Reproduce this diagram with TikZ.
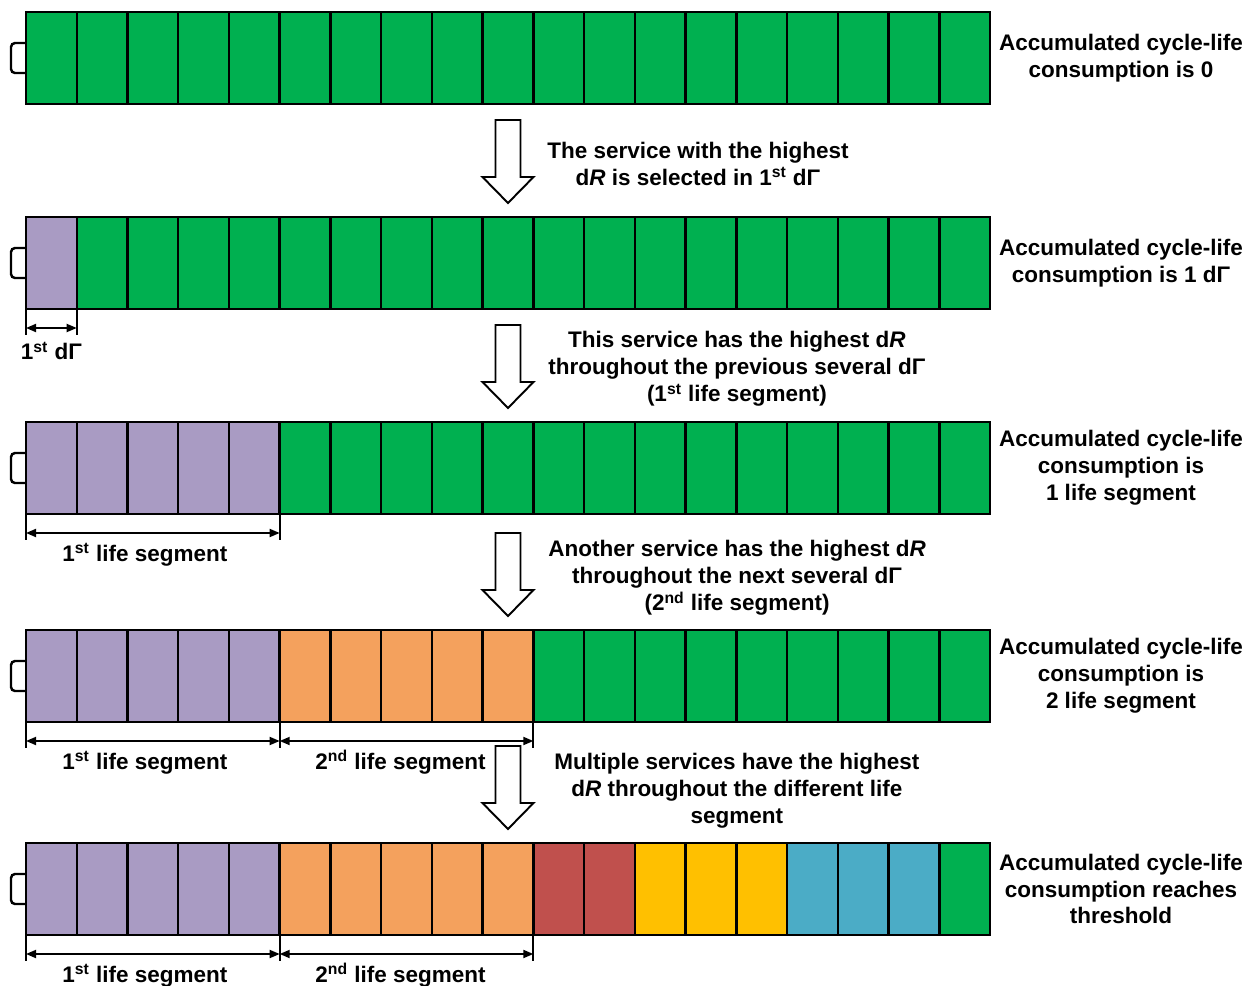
\documentclass[tikz,border=0pt]{standalone}
\usepackage{fontspec}
\setmainfont{Liberation Sans}
\usetikzlibrary{positioning,arrows.meta,calc}
\definecolor{lifegreen}{HTML}{00B050}
\definecolor{lifepurple}{HTML}{A99BC3}
\definecolor{lifeorange}{HTML}{F4A15D}
\definecolor{lifered}{HTML}{C0504D}
\definecolor{lifeyellow}{HTML}{FFC000}
\definecolor{lifeblue}{HTML}{4BACC6}

\begin{document}
\begin{tikzpicture}[
  x=0.02cm, y=-0.02cm,
  font=\bfseries\fontsize{12.8pt}{15.3pt}\selectfont,
  cell/.style={
    draw=black, line width=1.4pt, inner sep=0pt, outer sep=0pt,
    minimum width=1.0147cm, minimum height=1.84cm,
  },
  terminal/.style={draw=black, line width=1.4pt, rounded corners=0.08cm},
  blockarrow/.style={draw=black, line width=1.1pt, fill=white},
  dimline/.style={draw=black, line width=1pt},
  dimarrow/.style={{Triangle[length=2mm,width=1.6mm]}-{Triangle[length=2mm,width=1.6mm]}, line width=1pt},
  status/.style={align=center, inner sep=0pt},
  note/.style={align=center, inner sep=0pt, anchor=west},
  dimlabel/.style={inner sep=0pt}
]
\useasboundingbox (0,0) rectangle (1255,985);

% Batteries: 19 cells each, counts of purple/orange/red/yellow/blue cells
\foreach \top/\np/\no/\nr/\ny/\nb [count=\b] in {12/0/0/0/0/0, 217/1/0/0/0/0, 422/5/0/0/0/0, 630/5/5/0/0/0, 843/5/5/2/3/3} {
  \foreach \j in {1,...,19} {
    \pgfmathtruncatemacro\k{(\j>\np)+(\j>\np+\no)+(\j>\np+\no+\nr)+(\j>\np+\no+\nr+\ny)+(\j>\np+\no+\nr+\ny+\nb)}
    \pgfmathsetmacro\cc{{"lifepurple","lifeorange","lifered","lifeyellow","lifeblue","lifegreen"}[\k]}
    \node[cell, fill=\cc] (c\b-\j) at ({26+(\j-0.5)*50.737},\top+46) {};
  }
  % battery terminal
  \draw[terminal] ($(c\b-1.west)+(0,-15)$) -- ++(-15,0) -- ++(0,30) -- ++(15,0);
}

% Status labels
\node[status] (s1) at ($(c1-19.east)+(131,0)$) {Accumulated cycle-life\\consumption is 0};
\node[status] (s2) at ($(c2-19.east)+(131,0)$) {Accumulated cycle-life\\consumption is 1 dΓ};
\node[status] (s3) at ($(c3-19.east)+(131,0)$) {Accumulated cycle-life\\consumption is\\1 life segment};
\node[status] (s4) at ($(c4-19.east)+(131,0)$) {Accumulated cycle-life\\consumption is\\2 life segment};
\node[status] (s5) at ($(c5-19.east)+(131,0)$) {Accumulated cycle-life\\consumption reaches\\threshold};

% Block arrows between batteries
\foreach \t [count=\i] in {120,325,533,746} {
  \coordinate (arr\i) at (508,\t);
  \draw[blockarrow] (arr\i) ++(-12.5,0) -- ++(0,57) -- ++(-13,0) -- ++(25.5,26)
    -- ++(25.5,-26) -- ++(-13,0) -- ++(0,-57) -- cycle;
}

% Arrow notes
\node[note] (n1) at ($(arr1)+(39,44)$) {The service with the highest\\d\textit{R} is selected in 1\textsuperscript{st} dΓ};
\node[note] (n2) at ($(arr2)+(40,44)$) {This service has the highest d\textit{R}\\throughout the previous several dΓ\\(1\textsuperscript{st} life segment)};
\node[note] (n3) at ($(arr3)+(40,45)$) {Another service has the highest d\textit{R}\\throughout the next several dΓ\\(2\textsuperscript{nd} life segment)};
\node[note] (n4) at ($(arr4)+(46,45)$) {Multiple services have the highest\\d\textit{R} throughout the different life\\segment};

% Dimension: 1st dΓ
\draw[dimline] (c2-1.south west) -- ++(0,26);
\draw[dimline] (c2-1.south east) -- ++(0,26);
\coordinate (d2l) at ($(c2-1.south west)+(0,19)$);
\coordinate (d2r) at ($(c2-1.south east)+(0,19)$);
\draw[dimarrow] (d2l) -- (d2r);
\node[dimlabel] (l2) at ($(d2l)!0.5!(d2r)+(0,23)$) {1\textsuperscript{st} dΓ};

% Dimension: 1st life segment
\foreach \b in {3,4,5} {
  \draw[dimline] (c\b-1.south west) -- ++(0,26);
  \draw[dimline] (c\b-5.south east) -- ++(0,26);
  \coordinate (d\b l) at ($(c\b-1.south west)+(0,19)$);
  \coordinate (d\b m) at ($(c\b-5.south east)+(0,19)$);
  \draw[dimarrow] (d\b l) -- (d\b m);
  \node[dimlabel] (la\b) at ($(d\b l)!0.5!(d\b m)+(-8,22)$) {1\textsuperscript{st} life segment};
}

% Dimension: 2nd life segment
\foreach \b in {4,5} {
  \draw[dimline] (c\b-10.south east) -- ++(0,26);
  \coordinate (d\b r) at ($(c\b-10.south east)+(0,19)$);
  \draw[dimarrow] (d\b m) -- (d\b r);
  \node[dimlabel] (lb\b) at ($(d\b m)!0.5!(d\b r)+(-6,21)$) {2\textsuperscript{nd} life segment};
}

\end{tikzpicture}
\end{document}
